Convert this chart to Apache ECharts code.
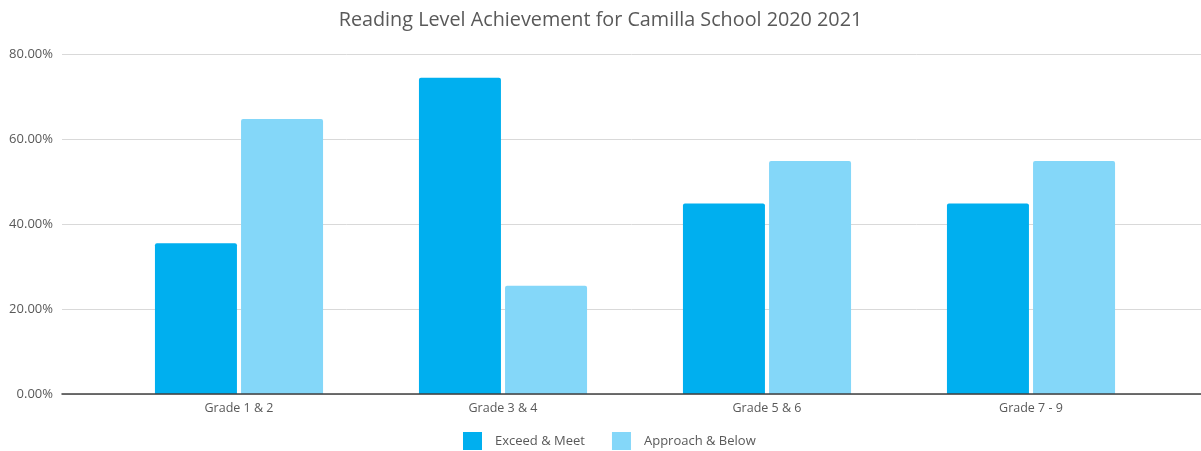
<!DOCTYPE html>
<html>
<head>
<meta charset="utf-8">
<script src="https://cdn.jsdelivr.net/npm/echarts@6/dist/echarts.min.js"></script>
<style>html,body{margin:0;padding:0;background:#fff;}#c{width:1201px;height:451px;}</style>
</head>
<body>
<div id="c"></div>
<script>
const categories = ['Grade 1 & 2', 'Grade 3 & 4', 'Grade 5 & 6', 'Grade 7 - 9'];
const exceedMeet = [35.5, 74.4, 44.8, 44.8];
const approachBelow = [64.7, 25.5, 54.8, 54.8];
const seriesNames = ['Exceed & Meet', 'Approach & Below'];
const yTicks = { min: 0, max: 80, interval: 20 };

const FONT = '"Open Sans", "Noto Sans", sans-serif';
const chart = echarts.init(document.getElementById('c'));
chart.setOption({
  animation: false,
  textStyle: { fontFamily: FONT },
  title: {
    text: 'Reading Level Achievement for Camilla School 2020 2021',
    left: 'center', top: 5,
    textStyle: { fontSize: 19.8, fontWeight: 'normal', color: '#595959', fontFamily: FONT }
  },
  legend: {
    data: seriesNames,
    left: 463, top: 432, padding: 0,
    itemWidth: 19, itemHeight: 18, itemGap: 27,
    icon: 'rect',
    textStyle: { fontSize: 13, color: '#595959', padding: [0, 0, 0, 8] }
  },
  grid: [
    { left: 62, right: 0, top: 54, bottom: 57 },
    { left: 107, width: 1056, top: 54, bottom: 57 }
  ],
  xAxis: [
    { gridIndex: 0, type: 'category', data: [''],
      axisLine: { show: true, lineStyle: { color: '#404040', width: 1.5 } },
      axisTick: { show: false }, axisLabel: { show: false }, z: 10 },
    { gridIndex: 1, type: 'category', data: categories,
      axisLine: { show: false }, axisTick: { show: false },
      axisLabel: { color: '#595959', fontSize: 12.5, margin: 8 } }
  ],
  yAxis: [
    { gridIndex: 0, type: 'value', min: yTicks.min, max: yTicks.max, interval: yTicks.interval,
      axisLine: { show: false }, axisTick: { show: false },
      axisLabel: { color: '#595959', fontSize: 13, margin: 9, formatter: v => v.toFixed(2) + '%' },
      splitLine: { lineStyle: { color: '#d9d9d9', width: 1 } } },
    { gridIndex: 1, type: 'value', min: yTicks.min, max: yTicks.max, interval: yTicks.interval,
      show: false, splitLine: { show: false } }
  ],
  series: [
    { name: seriesNames[0], type: 'bar', xAxisIndex: 1, yAxisIndex: 1, data: exceedMeet,
      barWidth: 82, barGap: '5%',
      itemStyle: { color: '#00AFEF', borderRadius: [2, 2, 0, 0] } },
    { name: seriesNames[1], type: 'bar', xAxisIndex: 1, yAxisIndex: 1, data: approachBelow,
      barWidth: 82, barGap: '5%',
      itemStyle: { color: '#84D7F9', borderRadius: [2, 2, 0, 0] } }
  ]
});
</script>
</body>
</html>
